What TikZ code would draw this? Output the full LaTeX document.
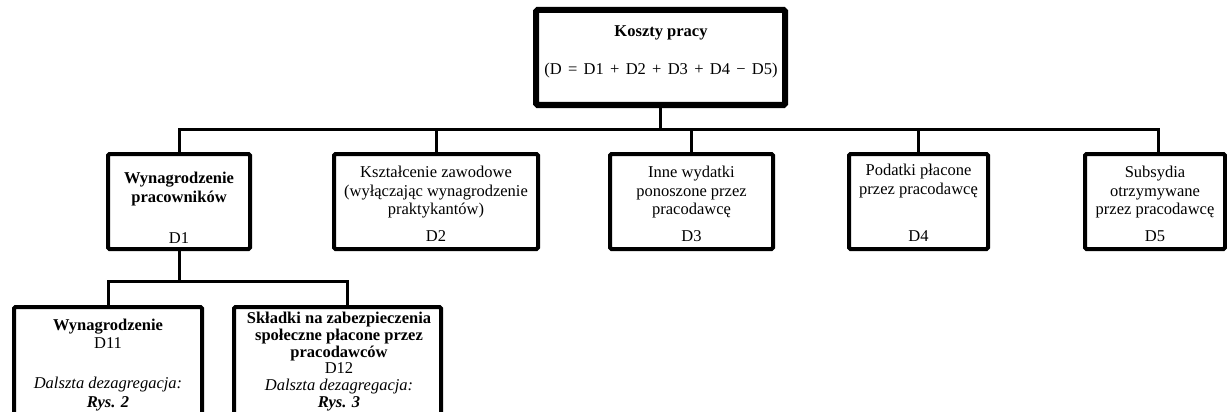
\documentclass[tikz,border=0pt]{standalone}
\usepackage{fontspec}
\setmainfont{Liberation Serif}
\newcommand\wsp{\hspace{6.3pt}}
\begin{document}
\begin{tikzpicture}[x=1pt,y=-1pt,
  box/.style={draw, line width=4pt, inner sep=0pt, rounded corners=1.5pt},
  topbox/.style={box, line width=6pt},
  conn/.style={line width=3pt},
  txt/.style={anchor=base, inner sep=0pt, font=\fontsize{16.5}{19}\selectfont}]
\useasboundingbox (0,0) rectangle (1227,412);
\clip (0,0) rectangle (1227,412);
% boxes
\node[topbox, minimum width=249pt, minimum height=95pt] (top) at (660.5,57.5) {};
\node[box, minimum width=142pt, minimum height=95pt] (d1) at (179,201.5) {};
\node[box, minimum width=204pt, minimum height=95pt] (d2) at (436,201.5) {};
\node[box, minimum width=163pt, minimum height=95pt] (d3) at (691.5,201.5) {};
\node[box, minimum width=139pt, minimum height=95pt] (d4) at (918.5,201.5) {};
\node[box, minimum width=140pt, minimum height=95pt] (d5) at (1155,201.5) {};
\node[box, minimum width=188pt, minimum height=133pt] (d11) at (108,373.5) {};
\node[box, minimum width=207pt, minimum height=133pt] (d12) at (337.5,373.5) {};
% connectors
\coordinate (bus) at (0,129);
\coordinate (sub) at (0,281);
\draw[conn] (top.south) -- (top.south |- bus);
\draw[conn] (d1.north) -- (d1.north |- bus) -- ([xshift=3pt]d5.north |- bus) -- ([xshift=3pt]d5.north);
\draw[conn] (d2.north) -- (d2.north |- bus);
\draw[conn] (d3.north) -- (d3.north |- bus);
\draw[conn] (d4.north) -- (d4.north |- bus);
\draw[conn] (d1.south) -- (d1.south |- sub);
\draw[conn] (d11.north) -- (d11.north |- sub) -- ([xshift=9.5pt]d12.north |- sub) -- ([xshift=9.5pt]d12.north);
% texts
\node[txt] (ta) at (661,37) {\bfseries Koszty pracy};
\node[txt] (tb) at (661,75) {(D\wsp=\wsp D1\wsp+\wsp D2\wsp+\wsp D3\wsp+\wsp D4\wsp−\wsp D5)};
\node[txt] (a1) at (179,183) {\bfseries Wynagrodzenie};
\node[txt] (a2) at (179,202) {\bfseries pracowników};
\node[txt] (a3) at (179,243) {D1};
\node[txt] (b1) at (436,177) {Kształcenie zawodowe};
\node[txt] (b2) at (436,196) {(wyłączając wynagrodzenie};
\node[txt] (b3) at (436,214) {praktykantów)};
\node[txt] (b4) at (436,241) {D2};
\node[txt] (c1) at (691.5,177) {Inne wydatki};
\node[txt] (c2) at (691.5,196) {ponoszone przez};
\node[txt] (c3) at (691.5,214) {pracodawcę};
\node[txt] (c4) at (691.5,241) {D3};
\node[txt] (e1) at (918.5,175) {Podatki płacone};
\node[txt] (e2) at (918.5,194) {przez pracodawcę};
\node[txt] (e4) at (918.5,241) {D4};
\node[txt] (f1) at (1155,177) {Subsydia};
\node[txt] (f2) at (1155,196) {otrzymywane};
\node[txt] (f3) at (1155,214) {przez pracodawcę};
\node[txt] (f4) at (1155,241) {D5};
\node[txt] (g1) at (108,330) {\bfseries Wynagrodzenie};
\node[txt] (g2) at (108,348) {D11};
\node[txt] (g3) at (108,388) {\itshape Dalszta dezagregacja:};
\node[txt] (g4) at (108,407) {\bfseries\itshape Rys. 2};
\node[txt] (h1) at (339,323) {\bfseries Składki na zabezpieczenia};
\node[txt] (h2) at (339,340) {\bfseries społeczne płacone przez};
\node[txt] (h3) at (339,357) {\bfseries pracodawców};
\node[txt] (h4) at (339,373) {D12};
\node[txt] (h5) at (339,390) {\itshape Dalszta dezagregacja:};
\node[txt] (h6) at (339,407) {\bfseries\itshape Rys. 3};
\end{tikzpicture}
\end{document}
